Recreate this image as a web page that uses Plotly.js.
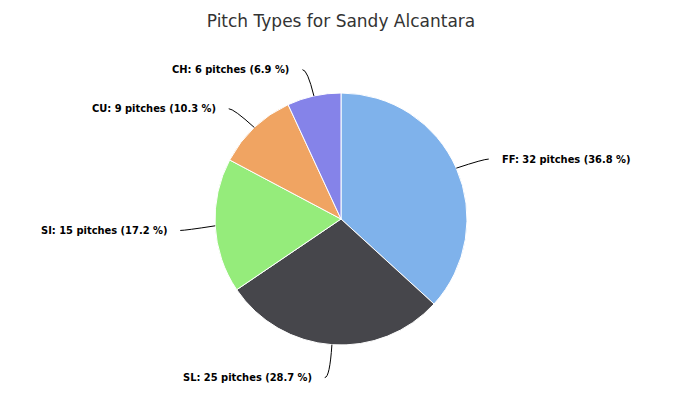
<!DOCTYPE html>
<html>
<head>
<meta charset="utf-8">
<script src="https://cdn.plot.ly/plotly-3.0.1.min.js"></script>
<style>html,body{margin:0;padding:0;background:#fff;}#chart{width:693px;height:415px;}</style>
</head>
<body>
<div id="chart"></div>
<script>
const pitchTypes = ["FF", "SL", "SI", "CU", "CH"];
const pitchCounts = [32, 25, 15, 9, 6];
const sliceColors = ["#7fb2eb", "#46464b", "#95ec7b", "#f0a462", "#8583e9"];
const chartTitle = "Pitch Types for Sandy Alcantara";

const W = 693, H = 415;
const cx = 341, cy = 219, R = 126, dist = 30;
const total = pitchCounts.reduce((a, b) => a + b, 0);

const px = x => x / W;
const py = y => 1 - y / H;

const annotations = [];
const shapes = [];
let cum = 0;
pitchCounts.forEach((v, i) => {
  const frac = v / total;
  const mid = (cum + frac / 2) * 2 * Math.PI;
  cum += frac;
  const s = Math.sin(mid), c = Math.cos(mid);
  const ex = cx + R * s, ey = cy - R * c;
  const bx = cx + (R + dist) * s, by = cy - (R + dist) * c + 3;
  const sign = s >= 0 ? 1 : -1;
  const tx = bx + sign * 16;
  const sx = bx + sign * 5;
  shapes.push({
    type: "path", xref: "paper", yref: "paper",
    path: `M ${px(sx)} ${py(by)} Q ${px(bx)} ${py(by)} ${px(ex)} ${py(ey)}`,
    line: { color: "#000000", width: 1 }
  });
  const pct = (v / total * 100).toFixed(1);
  annotations.push({
    xref: "paper", yref: "paper", x: px(tx), y: py(by),
    xanchor: sign > 0 ? "left" : "right", yanchor: "middle",
    showarrow: false,
    text: `<b>${pitchTypes[i]}: ${v} pitches (${pct} %)</b>`,
    font: { family: "DejaVu Sans Condensed, DejaVu Sans", size: 11, color: "#000000" }
  });
});

const data = [{
  type: "pie",
  labels: pitchTypes,
  values: pitchCounts,
  sort: false,
  direction: "clockwise",
  rotation: 0,
  textinfo: "none",
  hoverinfo: "label+value+percent",
  marker: { colors: sliceColors, line: { color: "#ffffff", width: 1 } },
  domain: { x: [px(cx - R), px(cx + R)], y: [py(cy + R), py(cy - R)] },
  showlegend: false
}];

const layout = {
  width: W, height: H,
  margin: { l: 0, r: 0, t: 0, b: 0 },
  paper_bgcolor: "#ffffff",
  title: {
    text: chartTitle,
    x: px(cx), xanchor: "center",
    y: py(21), yanchor: "middle",
    font: { family: "DejaVu Sans", size: 17, color: "#333333" }
  },
  annotations: annotations,
  shapes: shapes,
  showlegend: false
};

Plotly.newPlot("chart", data, layout, { displayModeBar: false, staticPlot: true });
</script>
</body>
</html>
